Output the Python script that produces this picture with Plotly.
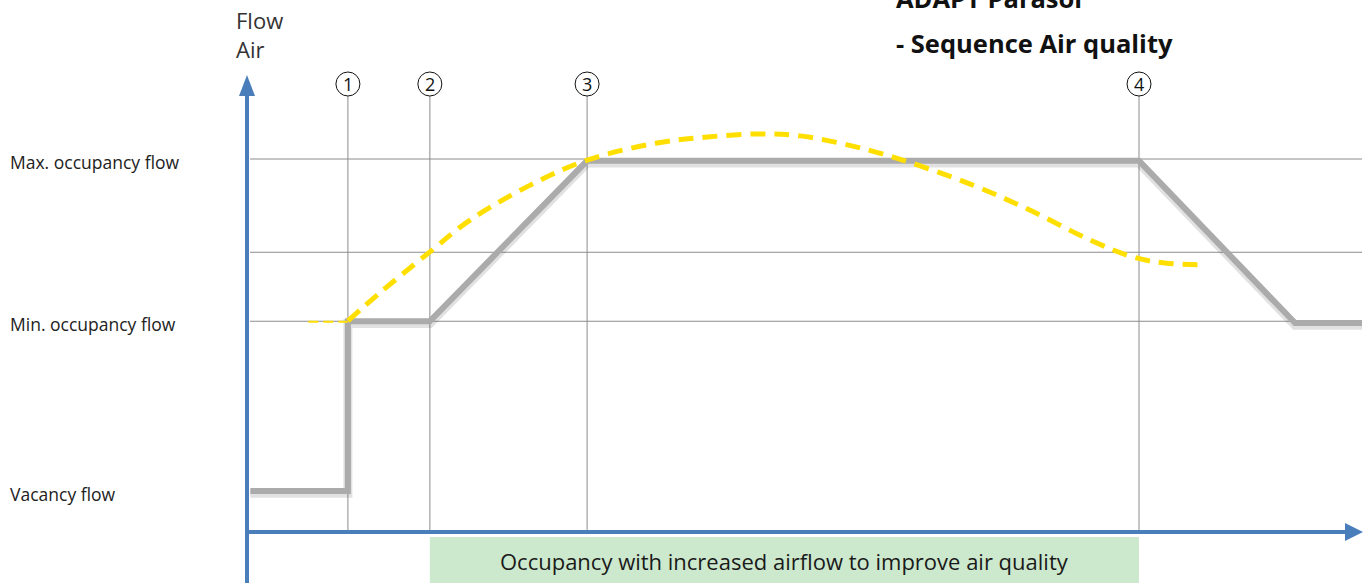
import plotly.graph_objects as go

# ---------------- data ----------------
LEVEL_NAMES = ["Max. occupancy flow", "Min. occupancy flow", "Vacancy flow"]
LEVEL_VALUES = [100, 56.5, 11]          # flow (% of max)
MID_GRID = 75

MARKER_LABELS = ["1", "2", "3", "4"]
MARKER_TIMES = [9.05, 16.4, 30.5, 80.0]

airflow_t = [0.3, 9.05, 9.05, 16.4, 30.5, 80.0, 94.0, 100.0]
airflow_v = [11, 11, 56.5, 56.5, 99.5, 99.5, 56.0, 56.0]

quality_lead_t = [5.5, 9.05]
quality_lead_v = [56.4, 56.4]
quality_t = [9.05, 11.9, 16.4, 20.0, 25.4, 30.5, 36.8, 41.3, 45.7, 49.6, 54.7,
             58.8, 65.1, 70.2, 75.6, 79.5, 82.3, 85.9]
quality_v = [56.6, 64.1, 75.1, 83.6, 93.0, 99.7, 104.3, 105.9, 106.7, 106.2, 103.2,
             99.7, 93.0, 86.3, 78.3, 73.7, 72.1, 71.6]

BAND_START, BAND_END = 16.4, 80.0
BAND_TEXT = "Occupancy with increased airflow to improve air quality"
TITLE_1 = "ADAPT Parasol"
TITLE_2 = "- Sequence Air quality"
Y_TITLE = ["Flow", "Air"]

# ---------------- geometry helpers ----------------
W, H = 1371, 583
X0_PX, XS = 247, 11.15      # px of x=0, px per unit
Y0_PX, YS = 532, 3.73       # px of y=0, px per unit
def dx(px): return (px - X0_PX) / XS
def dy(py): return (Y0_PX - py) / YS

FONT = "Open Sans"
BLUE = "#4A7EBB"
GRID = "#8C8C8C"
GRAY = "#ABABAB"
YELLOW = "#FFDF00"

fig = go.Figure()
shapes = []
annotations = []

# horizontal gridlines
for v in [LEVEL_VALUES[0], MID_GRID, LEVEL_VALUES[1]]:
    shapes.append(dict(type="line", x0=dx(250), x1=dx(1362), y0=v, y1=v,
                       line=dict(color=GRID, width=1), layer="below"))
# vertical marker lines + circles
for lab, t in zip(MARKER_LABELS, MARKER_TIMES):
    shapes.append(dict(type="line", x0=t, x1=t, y0=0, y1=dy(96),
                       line=dict(color=GRID, width=1), layer="below"))
    cy = dy(84)
    shapes.append(dict(type="circle", x0=t - 12 / XS, x1=t + 12 / XS,
                       y0=cy - 12 / YS, y1=cy + 12 / YS,
                       line=dict(color="#111111", width=1)))
    annotations.append(dict(x=t, y=cy, text=lab, showarrow=False,
                            font=dict(family=FONT, size=18, color="#111111"),
                            xanchor="center", yanchor="middle", yshift=0))

# green band
shapes.append(dict(type="rect", x0=BAND_START, x1=BAND_END, y0=dy(537), y1=dy(590),
                   fillcolor="#CDE9CD", line=dict(width=0), layer="below"))
annotations.append(dict(x=(BAND_START + BAND_END) / 2, y=dy(561), text=BAND_TEXT,
                        showarrow=False, font=dict(family=FONT, size=22, color="#1a1a1a"),
                        xanchor="center", yanchor="middle"))

# axes
shapes.append(dict(type="line", x0=0, x1=0, y0=dy(590), y1=dy(92),
                   line=dict(color=BLUE, width=4)))
shapes.append(dict(type="line", x0=0, x1=dx(1348), y0=0, y1=0,
                   line=dict(color=BLUE, width=4)))
shapes.append(dict(type="path",
                   path=f"M {dx(239)},{dy(96)} L {dx(247)},{dy(75)} L {dx(255)},{dy(96)} Z",
                   fillcolor=BLUE, line=dict(width=0)))
shapes.append(dict(type="path",
                   path=f"M {dx(1345)},{dy(523)} L {dx(1363)},{dy(532)} L {dx(1345)},{dy(541)} Z",
                   fillcolor=BLUE, line=dict(width=0)))

# traces
fig.add_trace(go.Scatter(x=airflow_t, y=[v - 0.6 for v in airflow_v], mode="lines",
                         line=dict(color="rgba(90,90,90,0.18)", width=9),
                         hoverinfo="skip", showlegend=False))
fig.add_trace(go.Scatter(x=airflow_t, y=airflow_v, mode="lines",
                         line=dict(color=GRAY, width=6), showlegend=False))
fig.add_trace(go.Scatter(x=quality_lead_t, y=quality_lead_v, mode="lines",
                         line=dict(color=YELLOW, width=2, dash="10px,5px"),
                         showlegend=False))
fig.add_trace(go.Scatter(x=quality_t, y=quality_v, mode="lines",
                         line=dict(color=YELLOW, width=5, dash="15px,9px",
                                   shape="spline", smoothing=1.0),
                         showlegend=False))

# level labels
for name, v in zip(LEVEL_NAMES, LEVEL_VALUES):
    annotations.append(dict(x=8 / W, xref="paper", y=v, text=name, showarrow=False,
                            font=dict(family=FONT, size=17.5, color="#222222"),
                            xanchor="left", yanchor="middle", yshift=-3))
# y-axis title
annotations.append(dict(x=234 / W, xref="paper", y=dy(20), text=Y_TITLE[0], showarrow=False,
                        font=dict(family=FONT, size=22, color="#333333"),
                        xanchor="left", yanchor="middle"))
annotations.append(dict(x=234 / W, xref="paper", y=dy(49), text=Y_TITLE[1], showarrow=False,
                        font=dict(family=FONT, size=22, color="#333333"),
                        xanchor="left", yanchor="middle"))
# titles
annotations.append(dict(x=894 / W, xref="paper", y=1, yref="paper", yshift=2,
                        text=f"<b>{TITLE_1}</b>",
                        showarrow=False, font=dict(family=FONT, size=25.5, color="#111111"),
                        xanchor="left", yanchor="middle"))
annotations.append(dict(x=894 / W, xref="paper", y=dy(43), text=f"<b>{TITLE_2}</b>",
                        showarrow=False, font=dict(family=FONT, size=25.5, color="#111111"),
                        xanchor="left", yanchor="middle"))

fig.update_layout(
    width=W, height=H, margin=dict(l=0, r=0, t=0, b=0),
    paper_bgcolor="white", plot_bgcolor="white",
    xaxis=dict(range=[dx(0), dx(W)], visible=False, fixedrange=True),
    yaxis=dict(range=[dy(H), dy(0)], visible=False, fixedrange=True),
    shapes=shapes, annotations=annotations, showlegend=False,
)
fig.write_html("out.html", config={"displayModeBar": False},
               post_script="document.body.style.margin='0';document.body.style.overflow='hidden';")
